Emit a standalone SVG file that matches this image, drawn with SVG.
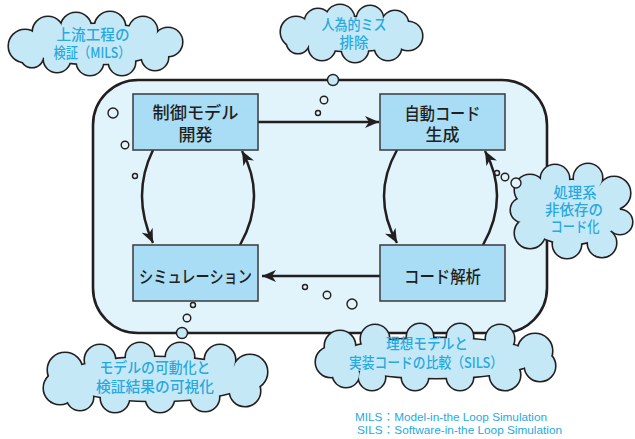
<svg xmlns="http://www.w3.org/2000/svg" xmlns:xlink="http://www.w3.org/1999/xlink" width="635" height="439" viewBox="0 0 635 439">
<style>
.frame{fill:#e1f3fb;stroke:#231f20;stroke-width:2.6}
.box{fill:#a8ddf5;stroke:#3a3a3a;stroke-width:1.5}
.bt{font-family:"Noto Sans CJK JP","Noto Sans",sans-serif;font-size:17px;font-weight:500;fill:#231f20;text-anchor:middle}
.ct{font-family:"Noto Sans CJK JP","Noto Sans",sans-serif;font-size:14.5px;font-weight:500;fill:#27a9e1;text-anchor:middle}
.lg{font-family:"Liberation Sans","Noto Sans CJK JP",sans-serif;font-size:11px;fill:#27a9e1}
.arr{fill:none;stroke:#231f20;stroke-width:2.5}
.cloudO{fill:#231f20;stroke:#231f20;stroke-width:3.2}
.cloudI{fill:#c5e8f7;stroke:none}
.bub{fill:#e1f3fb;stroke:#231f20;stroke-width:1.4}
.bub2{fill:#c5e8f7;stroke:#231f20;stroke-width:1.4}
</style>
<defs>
<marker id="ah" markerUnits="userSpaceOnUse" markerWidth="16" markerHeight="12" refX="14" refY="6" orient="auto">
<path d="M0,0 L14,6 L0,12 L4,6 z" fill="#231f20"/>
</marker>
<g id="c1">
<ellipse cx="95" cy="44" rx="70" ry="20"/>
<circle cx="25" cy="46" r="16"/><circle cx="48" cy="32" r="15"/><circle cx="76" cy="28" r="15"/>
<circle cx="110" cy="27" r="15"/><circle cx="143" cy="31" r="14"/><circle cx="168" cy="42" r="14"/>
<circle cx="155" cy="57" r="13"/><circle cx="122" cy="62" r="13"/><circle cx="90" cy="62" r="13"/>
<circle cx="57" cy="59" r="13"/><circle cx="32" cy="56" r="11"/>
</g>
<g id="c2">
<ellipse cx="352" cy="34" rx="58" ry="17"/>
<circle cx="296" cy="32" r="15"/><circle cx="318" cy="22" r="13"/><circle cx="340" cy="19" r="14"/>
<circle cx="370" cy="19" r="13"/><circle cx="395" cy="24" r="13"/><circle cx="408" cy="36" r="14"/>
<circle cx="388" cy="47" r="13"/><circle cx="355" cy="49" r="13"/><circle cx="322" cy="47" r="13"/><circle cx="298" cy="42" r="11"/>
</g>
<g id="c3">
<ellipse cx="572" cy="212" rx="48" ry="32"/>
<circle cx="530" cy="190" r="15"/><circle cx="555" cy="179" r="14"/><circle cx="588" cy="178" r="14"/>
<circle cx="614" cy="193" r="16"/><circle cx="620" cy="222" r="12"/><circle cx="602" cy="243" r="14"/>
<circle cx="567" cy="244" r="14"/><circle cx="530" cy="233" r="15"/><circle cx="523" cy="210" r="12"/>
</g>
<g id="c4">
<ellipse cx="156" cy="379" rx="95" ry="22"/>
<circle cx="65" cy="370" r="17"/><circle cx="60" cy="388" r="16"/><circle cx="100" cy="360" r="15"/>
<circle cx="140" cy="357" r="14"/><circle cx="180" cy="357" r="14"/><circle cx="220" cy="360" r="15"/>
<circle cx="250" cy="372" r="17"/><circle cx="245" cy="391" r="15"/><circle cx="205" cy="397" r="14"/>
<circle cx="160" cy="398" r="14"/><circle cx="115" cy="398" r="14"/><circle cx="80" cy="397" r="13"/>
</g>
<g id="c5">
<ellipse cx="436" cy="358" rx="100" ry="20"/>
<circle cx="340" cy="346" r="15"/><circle cx="331" cy="362" r="15"/><circle cx="375" cy="339" r="14"/>
<circle cx="420" cy="337" r="13"/><circle cx="460" cy="337" r="13"/><circle cx="500" cy="339" r="14"/>
<circle cx="535" cy="351" r="17"/><circle cx="540" cy="366" r="15"/><circle cx="505" cy="375" r="15"/>
<circle cx="460" cy="377" r="13"/><circle cx="415" cy="377" r="13"/><circle cx="372" cy="377" r="13"/><circle cx="346" cy="374" r="13"/>
</g>
</defs>

<rect class="frame" x="93" y="80" width="454" height="253" rx="45" ry="45"/>

<g id="clouds">
<g id="cloud-mils"><use href="#c1" class="cloudO"/><use href="#c1" class="cloudI"/>
<text class="ct" x="93" y="40" textLength="73" lengthAdjust="spacingAndGlyphs">上流工程の</text>
<text class="ct" x="92" y="58" textLength="77" lengthAdjust="spacingAndGlyphs">検証（MILS）</text></g>
<g id="cloud-human"><use href="#c2" class="cloudO"/><use href="#c2" class="cloudI"/>
<text class="ct" x="354" y="30" textLength="65" lengthAdjust="spacingAndGlyphs">人為的ミス</text>
<text class="ct" x="354" y="48" textLength="29" lengthAdjust="spacingAndGlyphs">排除</text></g>
<g id="cloud-code"><use href="#c3" class="cloudO"/><use href="#c3" class="cloudI"/>
<text class="ct" x="575" y="198" textLength="43" lengthAdjust="spacingAndGlyphs">処理系</text>
<text class="ct" x="574" y="215" textLength="58" lengthAdjust="spacingAndGlyphs">非依存の</text>
<text class="ct" x="575" y="232" textLength="49" lengthAdjust="spacingAndGlyphs">コード化</text></g>
<g id="cloud-model"><use href="#c4" class="cloudO"/><use href="#c4" class="cloudI"/>
<text class="ct" x="155" y="373" textLength="111" lengthAdjust="spacingAndGlyphs">モデルの可動化と</text>
<text class="ct" x="155" y="392" textLength="118" lengthAdjust="spacingAndGlyphs">検証結果の可視化</text></g>
<g id="cloud-sils"><use href="#c5" class="cloudO"/><use href="#c5" class="cloudI"/>
<text class="ct" x="427" y="349" textLength="82" lengthAdjust="spacingAndGlyphs">理想モデルと</text>
<text class="ct" x="426" y="368" textLength="154" lengthAdjust="spacingAndGlyphs">実装コードの比較（SILS）</text></g>
</g>

<g id="bubbles">
<circle class="bub" cx="113" cy="113" r="5"/><circle class="bub" cx="125" cy="145" r="3.8"/><circle class="bub" cx="135" cy="176" r="2.5"/>
<circle class="bub2" cx="333" cy="80" r="5.5"/><circle class="bub" cx="324" cy="100" r="3.8"/><circle class="bub" cx="318" cy="113" r="2.5"/>
<circle class="bub" cx="497" cy="173" r="2.5"/><circle class="bub" cx="505" cy="177" r="3.8"/><circle class="bub" cx="516" cy="183" r="5"/>
<circle class="bub" cx="193" cy="305" r="2.5"/><circle class="bub" cx="187" cy="318" r="3.8"/><circle class="bub2" cx="182" cy="333" r="5.5"/>
<circle class="bub" cx="305" cy="287" r="2.5"/><circle class="bub" cx="327" cy="295" r="3.8"/><circle class="bub" cx="352" cy="304" r="5"/>
</g>

<g id="connectors">
<path class="arr" d="M258,122 L379,122" marker-end="url(#ah)"/>
<path class="arr" d="M380,276 L262,276" marker-end="url(#ah)"/>
<path class="arr" d="M153,150 Q131,195 153,243" marker-end="url(#ah)"/>
<path class="arr" d="M240,245 Q267,197 242,151" marker-end="url(#ah)"/>
<path class="arr" d="M397,150 Q371,196 397,243" marker-end="url(#ah)"/>
<path class="arr" d="M483,245 Q510,197 485,151" marker-end="url(#ah)"/>
</g>

<g id="node-model">
<rect class="box" x="133" y="94" width="125" height="56"/>
<text class="bt" x="195.5" y="119" textLength="86" lengthAdjust="spacingAndGlyphs">制御モデル</text>
<text class="bt" x="195.5" y="141">開発</text>
</g>
<g id="node-codegen">
<rect class="box" x="380" y="94" width="125" height="56"/>
<text class="bt" x="442.5" y="120" textLength="76" lengthAdjust="spacingAndGlyphs">自動コード</text>
<text class="bt" x="442.5" y="141">生成</text>
</g>
<g id="node-sim">
<rect class="box" x="133" y="245" width="125" height="56"/>
<text class="bt" x="195.5" y="283" textLength="113" lengthAdjust="spacingAndGlyphs">シミュレーション</text>
</g>
<g id="node-analysis">
<rect class="box" x="380" y="245" width="125" height="56"/>
<text class="bt" x="442.5" y="283" textLength="77" lengthAdjust="spacingAndGlyphs">コード解析</text>
</g>

<g id="legend">
<text class="lg" x="355" y="421" textLength="192" lengthAdjust="spacingAndGlyphs">MILS：Model-in-the Loop Simulation</text>
<text class="lg" x="357" y="434" textLength="205" lengthAdjust="spacingAndGlyphs">SILS：Software-in-the Loop Simulation</text>
</g>
</svg>
